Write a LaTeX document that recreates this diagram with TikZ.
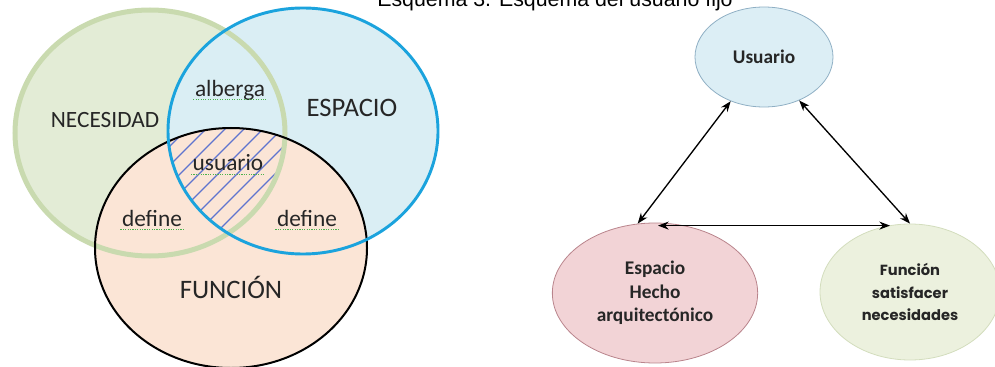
\documentclass[tikz,border=0pt]{standalone}
\usepackage{fontspec}
\setmainfont{Carlito}
\newfontfamily\titlefont{Liberation Sans}
\newfontfamily\roundfont{Poppins}
\usetikzlibrary{arrows.meta,positioning,shapes.geometric}

\definecolor{needfill}{HTML}{E3ECD6}
\definecolor{needline}{HTML}{C9DAAF}
\definecolor{spacefill}{HTML}{DAEEF4}
\definecolor{spaceline}{HTML}{1BA3DD}
\definecolor{funcfill}{HTML}{FBE5D6}
\definecolor{hatchblue}{HTML}{5F74CF}
\definecolor{userfill}{HTML}{DCEEF5}
\definecolor{userline}{HTML}{8FAFC4}
\definecolor{buildfill}{HTML}{F2D3D6}
\definecolor{buildline}{HTML}{B9848C}
\definecolor{servefill}{HTML}{ECF1DE}
\definecolor{serveline}{HTML}{D3DDBD}

\tikzset{
  setlabel/.style={font=\fontsize{17.5}{20}\selectfont, text=black!85},
  biglabel/.style={font=\fontsize{20}{23}\selectfont, text=black!85},
  verblabel/.style={font=\fontsize{17.5}{20}\selectfont, text=black!85, inner sep=1pt},
  squiggle/.style={densely dotted, line width=0.8pt, gray!60!green},
  hatch/.style={hatchblue, line width=0.9pt},
  bubble/.style={ellipse, draw, line width=0.6pt, align=center, inner sep=0pt,
    font=\bfseries\fontsize{14.5}{17.5}\selectfont, text=black!85},
  link/.style={{Stealth[length=8pt,width=6pt]}-{Stealth[length=8pt,width=6pt]}, line width=1pt},
}

\begin{document}
\begin{tikzpicture}[x=0.75pt, y=-0.75pt]
    \useasboundingbox (0,0) rectangle (995,367);

    % Title (cut at the top)
    \node[font=\titlefont\fontsize{16}{19}\selectfont, anchor=base] (title) at (555,7) {Esquema 3. Esquema del usuario fijo};

    % Venn diagram
    \begin{scope}
        \fill[needfill] (150,133) ellipse [x radius=135, y radius=123];
        \fill[spacefill] (303,131) ellipse [x radius=135, y radius=123];
        \fill[funcfill] (231,248) ellipse [x radius=136, y radius=120];
        \begin{scope}
            \clip (150,133) ellipse [x radius=135, y radius=123];
            \clip (303,131) ellipse [x radius=135, y radius=123];
            \clip (231,248) ellipse [x radius=136, y radius=120];
            \foreach \k in {0,...,22}
                \draw[hatch] (-60+19*\k, 300) -- ++(200,-200);
        \end{scope}
        \draw[needline, line width=3.75pt] (150,133) ellipse [x radius=135, y radius=123];
        \draw[black, line width=1.5pt] (231,248) ellipse [x radius=136, y radius=120];
        \draw[spaceline, line width=2.2pt] (303,131) ellipse [x radius=135, y radius=123];

        \node[setlabel] (need) at (105,120) {NECESIDAD};
        \node[biglabel] (space) at (352,108) {ESPACIO};
        \node[biglabel] (func) at (231,287) {FUNCIÓN};
        \node[verblabel] (alberga) at (230,90) {alberga};
        \node[verblabel] (usuario) at (228,163) {usuario};
        \node[verblabel] (defl) at (152,218) {define};
        \node[verblabel] (defr) at (307,218) {define};
        \foreach \w in {alberga,usuario,defl,defr}
            \draw[squiggle] ([yshift=-2.5pt]\w.base west) -- ([yshift=-2.5pt]\w.base east);
    \end{scope}

    % User scheme
    \begin{scope}
        \node[bubble, fill=userfill, draw=userline, minimum width=103.5pt, minimum height=75pt] (user) at (764,57) {Usuario};
        \node[bubble, fill=buildfill, draw=buildline, minimum width=154pt, minimum height=105pt] (build) at (655,293) {Espacio\\Hecho\\arquitectónico};
        \node[bubble, fill=servefill, draw=serveline, minimum width=135pt, minimum height=102pt,
              font=\roundfont\bfseries\fontsize{11}{17}\selectfont] (serve) at (910,292) {Función\\satisfacer\\necesidades};
        \draw[link] (user.233) -- (build.104);
        \draw[link] (user.309) -- (serve.north);
        \draw[link] ([xshift=2.25pt,yshift=-2.25pt]build.north) -- ([xshift=-15pt,yshift=-2.25pt]build.north -| serve.north);
    \end{scope}
\end{tikzpicture}
\end{document}
